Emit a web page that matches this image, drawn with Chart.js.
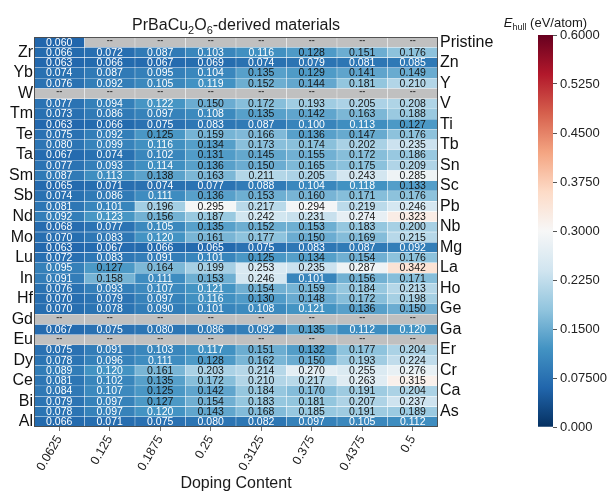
<!DOCTYPE html>
<html>
<head>
<meta charset="utf-8">
<script src="https://cdn.jsdelivr.net/npm/chart.js@4.4.1/dist/chart.umd.min.js"></script>
<style>
  html, body { margin: 0; padding: 0; background: #ffffff; }
  #wrap { position: relative; width: 612px; height: 493px; overflow: hidden; }
  #heat { position: absolute; left: 0; top: 0; }
  #cbar { position: absolute; left: 480px; top: 0; }
</style>
</head>
<body>
<div id="wrap">
  <canvas id="heat" width="612" height="493"></canvas>
  <canvas id="cbar" width="132" height="493"></canvas>
</div>
<script>
// ---- Doping levels (columns) ----
const dopingLabels = ['0.0625', '0.125', '0.1875', '0.25', '0.3125', '0.375', '0.4375', '0.5'];

// ---- Row names, top to bottom ----
const rowNames = ['Pristine', 'Zr', 'Zn', 'Yb', 'Y', 'W', 'V', 'Tm', 'Ti', 'Te', 'Tb', 'Ta', 'Sn', 'Sm',
  'Sc', 'Sb', 'Pb', 'Nd', 'Nb', 'Mo', 'Mg', 'Lu', 'La', 'In', 'Ho', 'Hf', 'Ge', 'Gd', 'Ga', 'Eu',
  'Er', 'Dy', 'Cr', 'Ce', 'Ca', 'Bi', 'As', 'Al'];

// ---- E_hull (eV/atom) per dopant; null = no structure ("--") ----
const hull_Pristine = [0.060, null, null, null, null, null, null, null];
const hull_Zr = [0.066, 0.072, 0.087, 0.103, 0.116, 0.128, 0.151, 0.176];
const hull_Zn = [0.063, 0.066, 0.067, 0.069, 0.074, 0.079, 0.081, 0.085];
const hull_Yb = [0.074, 0.087, 0.095, 0.104, 0.135, 0.129, 0.141, 0.149];
const hull_Y  = [0.076, 0.092, 0.105, 0.119, 0.152, 0.144, 0.181, 0.210];
const hull_W  = [null, null, null, null, null, null, null, null];
const hull_V  = [0.077, 0.094, 0.122, 0.150, 0.172, 0.193, 0.205, 0.208];
const hull_Tm = [0.073, 0.086, 0.097, 0.108, 0.135, 0.142, 0.163, 0.188];
const hull_Ti = [0.063, 0.066, 0.075, 0.083, 0.087, 0.100, 0.113, 0.127];
const hull_Te = [0.075, 0.092, 0.125, 0.159, 0.166, 0.136, 0.147, 0.176];
const hull_Tb = [0.080, 0.099, 0.116, 0.134, 0.173, 0.174, 0.202, 0.235];
const hull_Ta = [0.067, 0.074, 0.102, 0.131, 0.145, 0.155, 0.172, 0.186];
const hull_Sn = [0.077, 0.093, 0.114, 0.136, 0.150, 0.165, 0.175, 0.209];
const hull_Sm = [0.087, 0.113, 0.138, 0.163, 0.211, 0.205, 0.243, 0.285];
const hull_Sc = [0.065, 0.071, 0.074, 0.077, 0.088, 0.104, 0.118, 0.133];
const hull_Sb = [0.074, 0.086, 0.111, 0.136, 0.153, 0.160, 0.171, 0.176];
const hull_Pb = [0.081, 0.101, 0.196, 0.295, 0.217, 0.294, 0.219, 0.246];
const hull_Nd = [0.092, 0.123, 0.156, 0.187, 0.242, 0.231, 0.274, 0.323];
const hull_Nb = [0.068, 0.077, 0.105, 0.135, 0.152, 0.153, 0.183, 0.200];
const hull_Mo = [0.070, 0.083, 0.120, 0.161, 0.177, 0.150, 0.169, 0.215];
const hull_Mg = [0.063, 0.067, 0.066, 0.065, 0.075, 0.083, 0.087, 0.092];
const hull_Lu = [0.072, 0.083, 0.091, 0.101, 0.125, 0.134, 0.154, 0.176];
const hull_La = [0.095, 0.127, 0.164, 0.199, 0.253, 0.235, 0.287, 0.342];
const hull_In = [0.091, 0.158, 0.111, 0.153, 0.246, 0.101, 0.156, 0.171];
const hull_Ho = [0.076, 0.093, 0.107, 0.121, 0.154, 0.159, 0.184, 0.213];
const hull_Hf = [0.070, 0.079, 0.097, 0.116, 0.130, 0.148, 0.172, 0.198];
const hull_Ge = [0.070, 0.078, 0.090, 0.101, 0.108, 0.121, 0.136, 0.150];
const hull_Gd = [null, null, null, null, null, null, null, null];
const hull_Ga = [0.067, 0.075, 0.080, 0.086, 0.092, 0.135, 0.112, 0.120];
const hull_Eu = [null, null, null, null, null, null, null, null];
const hull_Er = [0.075, 0.091, 0.103, 0.117, 0.151, 0.132, 0.177, 0.204];
const hull_Dy = [0.078, 0.096, 0.111, 0.128, 0.162, 0.150, 0.193, 0.224];
const hull_Cr = [0.089, 0.120, 0.161, 0.203, 0.214, 0.270, 0.255, 0.276];
const hull_Ce = [0.081, 0.102, 0.135, 0.172, 0.210, 0.217, 0.263, 0.315];
const hull_Ca = [0.084, 0.107, 0.125, 0.142, 0.184, 0.170, 0.191, 0.204];
const hull_Bi = [0.079, 0.097, 0.127, 0.154, 0.183, 0.181, 0.207, 0.237];
const hull_As = [0.078, 0.097, 0.120, 0.143, 0.168, 0.185, 0.191, 0.189];
const hull_Al = [0.066, 0.071, 0.075, 0.080, 0.082, 0.097, 0.105, 0.112];

const rows = [hull_Pristine, hull_Zr, hull_Zn, hull_Yb, hull_Y, hull_W, hull_V, hull_Tm, hull_Ti,
  hull_Te, hull_Tb, hull_Ta, hull_Sn, hull_Sm, hull_Sc, hull_Sb, hull_Pb, hull_Nd, hull_Nb, hull_Mo,
  hull_Mg, hull_Lu, hull_La, hull_In, hull_Ho, hull_Hf, hull_Ge, hull_Gd, hull_Ga, hull_Eu, hull_Er,
  hull_Dy, hull_Cr, hull_Ce, hull_Ca, hull_Bi, hull_As, hull_Al];

// ---- Colour bar ----
const cbMin = 0.0;
const cbMax = 0.6;
const cbTicks = [0.0, 0.075, 0.15, 0.225, 0.3, 0.375, 0.45, 0.525, 0.6];
const cbTickLabels = ['0.000', '0.07500', '0.1500', '0.2250', '0.3000', '0.3750', '0.4500', '0.5250', '0.6000'];

// ---- Styling ----
const FONT = '"Liberation Sans", Arial, Helvetica, sans-serif';
const MISSING = 'rgb(192,192,192)';
const TEXT_DARK = '#151515';

// Reversed RdBu (blue -> white -> red), 11 anchor colours
const RDBU_R = [[5,48,97],[33,102,172],[67,147,195],[146,197,222],[209,229,240],[247,247,247],
  [253,219,199],[244,165,130],[214,96,77],[178,24,43],[103,0,31]];
function cmap(v) {
  const t = Math.max(0, Math.min(1, (v - cbMin) / (cbMax - cbMin))) * 10;
  const i = Math.min(9, Math.floor(t));
  const f = t - i;
  const a = RDBU_R[i], b = RDBU_R[i + 1];
  const c = a.map((x, k) => Math.round(x + (b[k] - x) * f));
  return `rgb(${c[0]},${c[1]},${c[2]})`;
}

// Text with subscripts, centred on cx
function drawRich(ctx, parts, cx, baseline, color) {
  const fontOf = p => `${p.italic ? 'italic ' : ''}${p.size}px ${FONT}`;
  let w = 0;
  parts.forEach(p => { ctx.font = fontOf(p); p.w = ctx.measureText(p.t).width; w += p.w; });
  let x = cx - w / 2;
  ctx.save();
  ctx.fillStyle = color;
  ctx.textAlign = 'left';
  ctx.textBaseline = 'alphabetic';
  parts.forEach(p => { ctx.font = fontOf(p); ctx.fillText(p.t, x, baseline + (p.dy || 0)); x += p.w; });
  ctx.restore();
}

const leftIdx = rowNames.map((_, i) => i).filter(i => i % 2 === 1);
const rightIdx = rowNames.map((_, i) => i).filter(i => i % 2 === 0);

// Cell labels, title, outline and colour-bar caption
const heatDecor = {
  id: 'heatDecor',
  afterDatasetsDraw(chart) {
    const ctx = chart.ctx;
    const area = chart.chartArea;
    ctx.save();
    ctx.textAlign = 'center';
    ctx.textBaseline = 'middle';
    rows.forEach((vals, r) => {
      const meta = chart.getDatasetMeta(r);
      meta.data.forEach((bar, c) => {
        const v = vals[c];
        const x = bar.x;
        const y = (bar.y + bar.base) / 2;
        if (v == null) {
          ctx.font = `bold 9px ${FONT}`;
          ctx.fillStyle = '#3a3a3a';
          ctx.fillText('--', x, y - 1.5);
        } else {
          ctx.font = `10.5px ${FONT}`;
          ctx.fillStyle = v < 0.1235 ? '#ffffff' : TEXT_DARK;
          ctx.fillText(v.toFixed(3), x, y + 0.5);
        }
      });
    });
    ctx.strokeStyle = 'rgba(70,70,70,0.9)';
    ctx.lineWidth = 1;
    ctx.strokeRect(area.left + 0.5, area.top + 0.5, area.right - area.left - 1, area.bottom - area.top - 1);
    ctx.restore();

    drawRich(ctx, [
      { t: 'PrBaCu', size: 16 }, { t: '2', size: 11, dy: 4 }, { t: 'O', size: 16 },
      { t: '6', size: 11, dy: 4 }, { t: '-derived materials', size: 16 }
    ], (area.left + area.right) / 2, 29.5, '#1a1a1a');

    drawRich(ctx, [
      { t: 'E', size: 13, italic: true }, { t: 'hull', size: 9, dy: 3 }, { t: ' (eV/atom)', size: 13 }
    ], 545.5, 27, '#1a1a1a');
  }
};

const heatDatasets = rows.map((vals, r) => ({
  data: vals.map(() => [r, r + 1]),
  backgroundColor: vals.map(v => (v == null ? MISSING : cmap(v))),
  borderColor: 'rgba(255,255,255,0.45)',
  borderWidth: 0.5,
  borderSkipped: false,
  grouped: false,
  barPercentage: 1,
  categoryPercentage: 1,
  yAxisID: 'yL'
}));

new Chart(document.getElementById('heat'), {
  type: 'bar',
  data: { labels: dopingLabels, datasets: heatDatasets },
  options: {
    responsive: false,
    animation: false,
    devicePixelRatio: 1,
    layout: { padding: { top: 37, left: 0, right: 0, bottom: 0 } },
    plugins: { legend: { display: false }, tooltip: { enabled: false }, title: { display: false } },
    scales: {
      x: {
        type: 'category',
        offset: true,
        grid: { display: true, offset: false, drawOnChartArea: false, drawTicks: true, tickLength: 4, color: '#777' },
        border: { display: false },
        ticks: { font: { family: FONT, size: 12.5 }, color: '#222', minRotation: 60, maxRotation: 60, padding: 2, autoSkip: false },
        title: { display: true, text: 'Doping Content', font: { family: FONT, size: 16 }, color: '#1a1a1a', padding: { top: 0, bottom: 0 } },
        afterFit: s => { s.height = 66; }
      },
      yL: {
        type: 'linear', position: 'left', min: 0, max: rowNames.length, reverse: true,
        afterBuildTicks: s => { s.ticks = leftIdx.map(i => ({ value: i + 0.5 })); },
        ticks: { callback: v => rowNames[Math.floor(v)], font: { family: FONT, size: 16 }, color: '#111', padding: 1, autoSkip: false },
        grid: { display: false, drawTicks: false },
        border: { display: false },
        afterFit: s => { s.width = 34; }
      },
      yR: {
        type: 'linear', position: 'right', min: 0, max: rowNames.length, reverse: true,
        afterBuildTicks: s => { s.ticks = rightIdx.map(i => ({ value: i + 0.5 })); },
        ticks: { callback: v => rowNames[Math.floor(v)], font: { family: FONT, size: 16 }, color: '#111', padding: 2, autoSkip: false },
        grid: { display: false, drawTicks: false },
        border: { display: false },
        afterFit: s => { s.width = 174; }
      }
    }
  },
  plugins: [heatDecor]
});

// ---- Colour bar chart ----
new Chart(document.getElementById('cbar'), {
  type: 'bar',
  data: {
    labels: [''],
    datasets: [{
      data: [[cbMin, cbMax]],
      backgroundColor: ctx => {
        const area = ctx.chart.chartArea;
        if (!area) return cmap(0.3);
        const g = ctx.chart.ctx.createLinearGradient(0, area.bottom, 0, area.top);
        RDBU_R.forEach((c, i) => g.addColorStop(i / 10, `rgb(${c[0]},${c[1]},${c[2]})`));
        return g;
      },
      borderWidth: 0,
      barPercentage: 1,
      categoryPercentage: 1
    }]
  },
  options: {
    responsive: false,
    animation: false,
    devicePixelRatio: 1,
    layout: { padding: { left: 58, top: 35, bottom: 66, right: 0 } },
    plugins: { legend: { display: false }, tooltip: { enabled: false } },
    scales: {
      x: { display: false, offset: true },
      y: {
        position: 'right', min: cbMin, max: cbMax,
        afterBuildTicks: s => { s.ticks = cbTicks.map(v => ({ value: v })); },
        ticks: { callback: (v, i) => cbTickLabels[i], font: { family: FONT, size: 13 }, color: '#222', padding: 3, autoSkip: false },
        grid: { drawOnChartArea: false, drawTicks: true, tickLength: 4, color: '#555' },
        border: { display: false },
        afterFit: s => { s.width = 59; }
      }
    }
  }
});
</script>
</body>
</html>
